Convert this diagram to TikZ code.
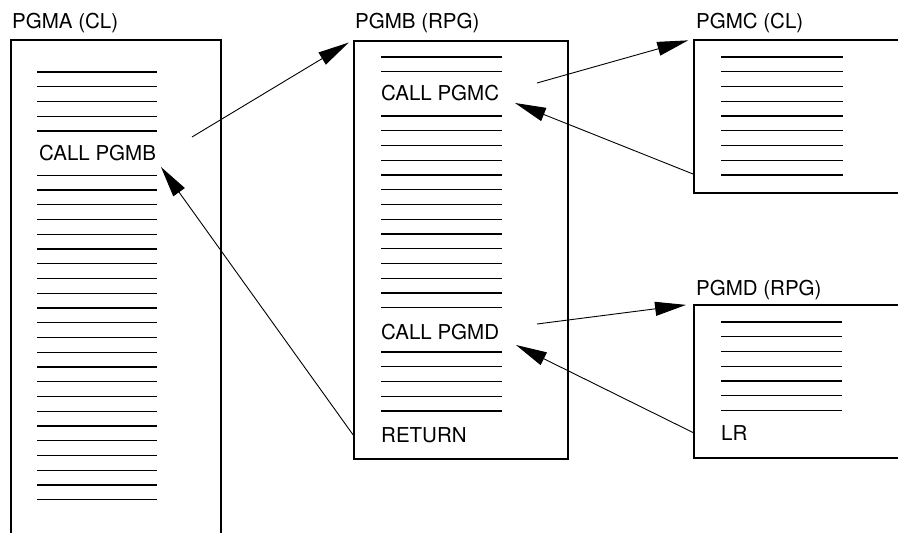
\documentclass[tikz,border=0pt]{standalone}
\usepackage{fontspec}
\setmainfont{TeX Gyre Heros}
\usetikzlibrary{arrows.meta}

\begin{document}
\begin{tikzpicture}[x=1pt, y=-1pt,
    pgmbox/.style={draw, rectangle, line width=1.8pt, inner sep=0pt, anchor=north west},
    rule/.style={line width=1.1pt},
    txt/.style={inner sep=0pt, anchor=base west, font=\fontsize{20.5}{24}\selectfont},
    callarrow/.style={line width=0.9pt, -{Triangle[length=31pt, width=14pt]}}]
    \useasboundingbox (0,0) rectangle (898,533);
    \clip (0,0) rectangle (898,533);

    % Program boxes (PGMA runs off the bottom, PGMC/PGMD off the right)
    \node[pgmbox, minimum width=210, minimum height=520] (pgma) at (10,39) {};
    \node[pgmbox, minimum width=214, minimum height=418] (pgmb) at (353,40) {};
    \node[pgmbox, minimum width=240, minimum height=153] (pgmc) at (693,39) {};
    \node[pgmbox, minimum width=240, minimum height=153] (pgmd) at (693,304) {};

    % Program names
    \node[txt] (namea) at (12,28) {PGMA (CL)};
    \node[txt] (nameb) at (355,28) {PGMB (RPG)};
    \node[txt] (namec) at (696,28) {PGMC (CL)};
    \node[txt] (named) at (696,295) {PGMD (RPG)};

    % Statements
    \node[txt] (callb) at (39,160) {CALL PGMB};
    \node[txt] (callc) at (381,100) {CALL PGMC};
    \node[txt] (calld) at (381,339) {CALL PGMD};
    \node[txt] (ret) at (381,442) {RETURN};
    \node[txt] (lr) at (721,440) {LR};

    % Source lines
    \foreach \k in {0,1,...,4,7,8,...,29}
        \draw[rule] (37,{72+\k*14.75}) -- (157,{72+\k*14.75});
    \foreach \k in {0,1,4,5,...,17,20,21,...,24}
        \draw[rule] (381,{57+\k*14.75}) -- (502,{57+\k*14.75});
    \foreach \k in {0,...,8}
        \draw[rule] (721,{57+\k*14.75}) -- (843,{57+\k*14.75});
    \foreach \k in {0,...,6}
        \draw[rule] (721,{322+\k*14.75}) -- (842,{322+\k*14.75});

    % Calls
    \coordinate (fromA) at (192,137);
    \coordinate (fromB1) at (537,83);
    \coordinate (fromB2) at (537,324);
    \draw[callarrow, shorten >=5pt] (fromA) -- (pgmb.north west);
    \draw[callarrow, shorten >=5pt] (fromB1) -- (pgmc.north west);
    \draw[callarrow, shorten >=7pt] (fromB2) -- (pgmd.north west);

    % Returns
    \coordinate (backA) at (161,167);
    \coordinate (backB1) at (515,103);
    \coordinate (backB2) at (516,345);
    \coordinate (outC) at (693,174);
    \draw[callarrow] (outC) -- (backB1);
    \draw[callarrow] (pgmd.west |- lr.west) -- (backB2);
    \draw[callarrow] (pgmb.west |- ret.west) -- (backA);
\end{tikzpicture}
\end{document}
